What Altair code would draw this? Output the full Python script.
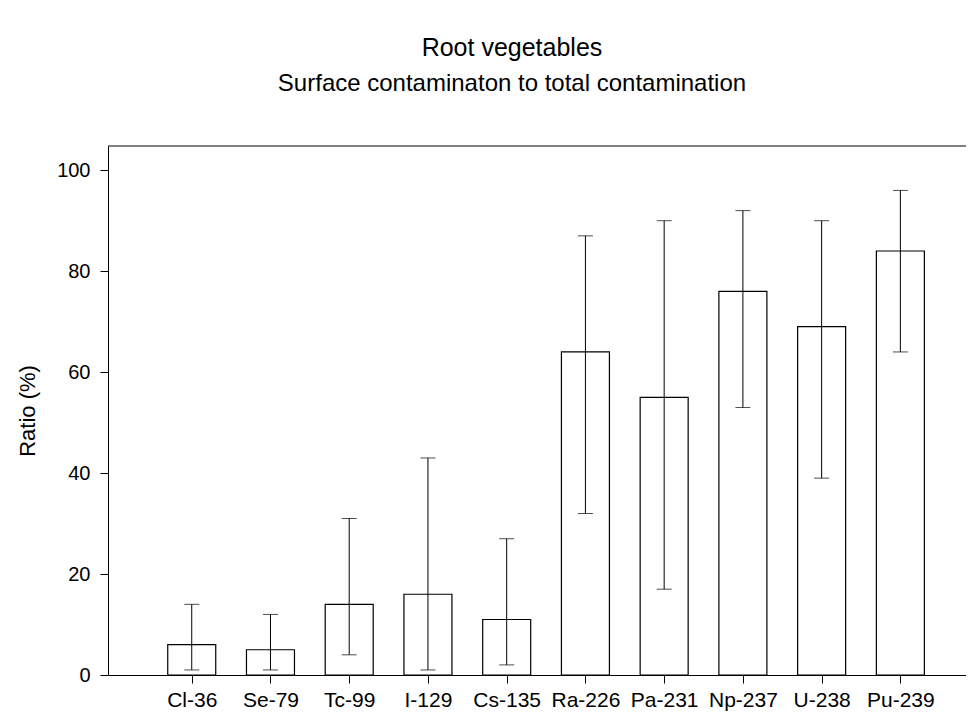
import altair as alt
import pandas as pd

nuclides = ["Cl-36", "Se-79", "Tc-99", "I-129", "Cs-135", "Ra-226", "Pa-231", "Np-237", "U-238", "Pu-239"]
ratio = [6, 5, 14, 16, 11, 64, 55, 76, 69, 84]
err_low = [1, 1, 4, 1, 2, 32, 17, 53, 39, 64]
err_high = [14, 12, 31, 43, 27, 87, 90, 92, 90, 96]
y_ticks = [0, 20, 40, 60, 80, 100]
positions = list(range(1, len(nuclides) + 1))

df = pd.DataFrame({"pos": positions, "nuclide": nuclides, "ratio": ratio,
                   "lo": err_low, "hi": err_high})
top_df = pd.DataFrame({"top": [104.8]})

FONT = "Liberation Sans"
label_expr = "[" + ",".join("'%s'" % n for n in nuclides) + "][datum.value - 1]"

x_scale = alt.Scale(domain=[0, 10.77], nice=False, zero=False)
y_scale = alt.Scale(domain=[0, 104.8], nice=False, zero=True)

x_axis = alt.Axis(values=positions, labelExpr=label_expr, title=None, grid=False,
                  tickSize=8, labelPadding=6, labelFontSize=21, labelFont=FONT,
                  labelColor="black", tickColor="black", domainColor="black",
                  labelFlush=False, labelOverlap=False)
y_axis = alt.Axis(values=y_ticks, title="Ratio (%)", grid=False, tickSize=8,
                  labelPadding=10, labelFontSize=20, labelFont=FONT, labelColor="black",
                  tickColor="black", domainColor="black", titleFont=FONT,
                  titleFontSize=22, titleFontWeight="normal", titleColor="black",
                  titlePadding=17)

base = alt.Chart(df)

bars = base.mark_bar(size=48, fill="white", stroke="black", strokeWidth=1.2).encode(
    x=alt.X("pos:Q", scale=x_scale, axis=x_axis),
    y=alt.Y("ratio:Q", scale=y_scale, axis=y_axis),
)

whisk = base.mark_rule(color="black", strokeWidth=1).encode(
    x="pos:Q", y="lo:Q", y2="hi:Q")
cap_lo = base.mark_tick(orient="horizontal", size=15, thickness=1, color="black").encode(
    x="pos:Q", y="lo:Q")
cap_hi = base.mark_tick(orient="horizontal", size=15, thickness=1, color="black").encode(
    x="pos:Q", y="hi:Q")

top_line = alt.Chart(top_df).mark_rule(color="black", strokeWidth=1.2).encode(
    y=alt.Y("top:Q", scale=y_scale))

chart = alt.layer(bars, whisk, cap_lo, cap_hi, top_line).properties(
    width=858, height=529,
    autosize=alt.AutoSizeParams(type="none"),
    padding={"left": 100, "top": 138, "right": 0, "bottom": 40},
    title=alt.TitleParams(
        text="Root vegetables",
        subtitle="Surface contaminaton to total contamination",
        font=FONT, subtitleFont=FONT, fontSize=25, subtitleFontSize=24,
        fontWeight="normal", color="black", subtitleColor="black",
        anchor="middle", dx=-25, offset=49, subtitlePadding=11),
).configure_view(stroke=None)

chart.save("out.html", embed_options={"renderer": "svg", "actions": False})
